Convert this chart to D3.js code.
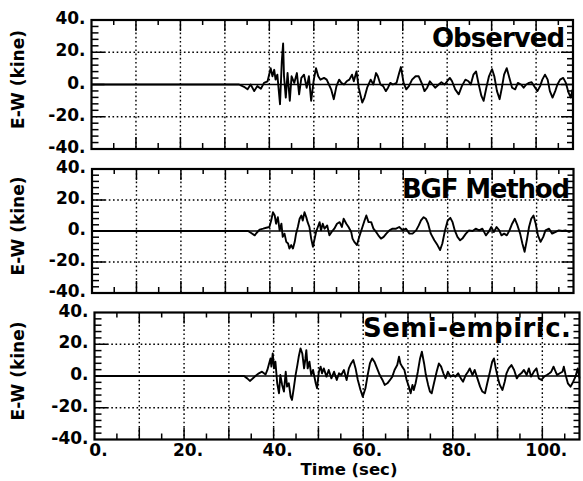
<!DOCTYPE html>
<html><head><meta charset="utf-8">
<script src="https://cdn.jsdelivr.net/npm/d3@7"></script>
<style>body{margin:0;background:#fff}svg{display:block}</style>
</head><body>
<svg id="c" width="583" height="481"></svg>
<script>
// ---- data (time in sec, E-W velocity in kine) ----
const titles = ["Observed", "BGF Method", "Semi-empiric."];
const yTickValues = [40, 20, 0, -20, -40];
const yTickLabels = ["40.", "20.", "0.", "-20.", "-40."];
const xTickValues = [0, 20, 40, 60, 80, 100];
const xTickLabels = ["0.", "20.", "40.", "60.", "80.", "100."];
const yAxisLabel = "E-W (kine)";
const xAxisLabel = "Time (sec)";

const observed = [[0,0],[33.2,0],[33.6,-0.6],[34.3,-1.4],[35.1,-3.0],[35.8,0],[36.6,-4.1],[37.3,-1.0],[38.1,-2.6],[38.8,1.0],[39.6,2.0],[40.3,10.1],[40.7,5.1],[41.1,9.1],[41.4,3.0],[41.8,6.1],[42.4,-12.2],[42.8,14.2],[43.1,25.4],[43.3,5.1],[43.7,-8.1],[44.1,7.1],[44.6,-10.1],[45.0,5.1],[45.6,1.0],[46.2,7.1],[46.7,-6.1],[47.2,4.1],[47.8,6.1],[48.4,-2.0],[48.9,5.1],[49.4,-10.1],[50.0,3.0],[50.5,10.1],[51.0,5.1],[51.5,3.0],[52.3,4.1],[52.9,3.0],[53.4,0],[53.9,-3.0],[54.5,-9.1],[55.1,-1.0],[55.7,3.0],[56.2,1.0],[56.8,0],[57.4,2.0],[58.0,3.0],[58.6,6.1],[59.0,2.0],[59.6,8.1],[60.1,-2.0],[60.9,-11.2],[61.4,-8.1],[62.0,-2.0],[62.8,3.0],[63.4,0],[64.0,7.1],[64.4,5.1],[65.0,0],[65.6,-1.0],[66.2,-4.1],[66.7,-2.0],[67.2,1.0],[67.8,0],[68.6,1.0],[69.2,7.1],[69.6,10.8],[70.2,1.0],[70.8,-3.0],[71.4,-1.0],[72.1,3.0],[72.9,5.1],[73.6,5.1],[74.4,0],[74.9,-4.1],[75.5,-2.0],[76.1,2.0],[76.7,0],[77.3,-2.0],[78.1,0],[78.7,1.4],[79.4,0],[80.0,2.0],[80.6,4.1],[81.1,2.0],[81.8,-3.0],[82.6,-6.1],[83.3,-1.0],[84.1,3.0],[84.8,2.0],[85.3,0],[85.9,6.1],[86.5,8.1],[87.1,0],[87.7,-7.1],[88.2,-10.1],[88.8,-2.0],[89.4,5.1],[90.1,9.5],[90.6,5.1],[91.2,-4.1],[91.8,-9.1],[92.3,-2.0],[92.8,6.1],[93.4,10.1],[94.0,4.1],[94.6,-2.0],[95.3,-3.0],[95.9,1.0],[96.6,0],[97.2,-2.0],[97.8,0],[98.4,1.0],[99.0,1.4],[99.8,-2.0],[100.3,-4.1],[100.9,-1.0],[101.4,3.0],[102.0,6.1],[102.6,3.0],[103.1,-4.1],[103.7,-8.1],[104.3,-4.1],[104.8,0],[105.4,3.0],[106.1,4.1],[106.7,1.0],[107.3,-5.1],[107.8,-8.1],[108.2,-3.0]];

const bgf = [[0,0],[35.1,0],[35.8,-1.3],[36.6,-2.8],[37.0,-1.3],[37.7,0.9],[38.5,1.5],[39.2,2.1],[39.9,2.6],[40.3,6.8],[40.7,12.1],[41.1,10.0],[41.4,4.7],[41.8,8.9],[42.2,0.4],[42.6,4.7],[42.9,-3.8],[43.3,-1.7],[43.7,-7.0],[44.1,-8.1],[44.4,-11.3],[44.8,-9.1],[45.2,-11.3],[45.6,-7.0],[45.9,-1.7],[46.3,2.6],[46.7,7.9],[47.1,10.0],[47.4,6.8],[47.8,12.1],[48.2,8.9],[48.5,5.7],[48.9,2.6],[49.3,-4.9],[49.7,-10.2],[50.0,-6.0],[50.4,-0.6],[50.8,2.6],[51.2,5.7],[51.5,0.4],[51.9,4.7],[52.3,1.5],[52.9,3.6],[53.4,-2.8],[53.9,-0.6],[54.5,1.5],[55.1,4.7],[55.7,5.7],[56.2,2.6],[56.6,7.9],[57.2,4.7],[57.7,2.6],[58.3,-0.6],[58.6,-4.9],[59.0,-7.0],[59.6,-9.1],[60.1,-3.8],[60.7,1.5],[61.3,6.8],[61.7,10.0],[62.2,5.7],[62.8,5.7],[63.3,1.5],[63.9,-0.6],[64.4,-2.8],[65.0,-4.9],[65.6,-3.8],[66.2,-1.7],[66.9,0.4],[67.6,1.5],[68.4,1.5],[69.1,2.6],[69.9,0.4],[70.6,1.5],[71.4,-1.7],[72.1,-1.7],[72.9,0.4],[73.5,3.6],[74.0,6.8],[74.6,8.9],[75.1,7.9],[75.6,4.7],[76.2,-1.7],[77.0,-6.0],[77.7,-9.1],[78.3,-12.3],[78.8,-8.1],[79.4,0.4],[80.0,6.8],[80.6,8.5],[81.1,5.7],[81.6,0.4],[82.2,-3.8],[82.8,-6.0],[83.3,-4.9],[84.1,-1.7],[84.8,0.4],[85.6,0],[86.3,1.5],[87.1,0.4],[87.8,1.5],[88.6,-2.8],[89.2,-0.6],[89.8,2.6],[90.4,-0.6],[91.0,2.6],[91.6,0.4],[92.1,-2.8],[92.7,-1.7],[93.3,-2.8],[93.9,0.4],[94.5,4.7],[95.1,7.9],[95.7,3.6],[96.3,-1.7],[96.8,-8.1],[97.3,-13.4],[97.8,-6.0],[98.3,2.6],[98.8,7.9],[99.3,10.0],[99.8,4.7],[100.3,-2.8],[100.9,-7.0],[101.5,-3.8],[102.0,0.4],[102.8,1.5],[103.5,-1.7],[104.3,-0.6],[105.0,0.4],[105.8,0],[106.5,0.4],[107.3,-0.6],[108.2,0.4]];

const semiEmpiric = [[0,0],[33.4,0],[34.1,-1.5],[34.7,-3.1],[35.2,-1.9],[36.0,0.2],[36.7,1.7],[37.4,2.7],[38.2,1.0],[38.6,3.8],[38.9,6.9],[39.3,11.1],[39.5,5.9],[39.8,14.2],[40.1,4.8],[40.4,9.0],[40.8,-4.6],[41.2,-10.9],[41.5,0.6],[41.9,-5.6],[42.3,-9.8],[42.7,2.7],[43.0,-6.7],[43.4,-4.6],[43.8,-13.0],[44.1,-15.1],[44.5,-7.7],[44.9,0.6],[45.3,6.9],[45.6,12.1],[46.0,17.4],[46.4,14.2],[46.8,4.8],[47.1,11.1],[47.3,16.3],[47.6,4.8],[48.0,9.0],[48.4,0.6],[48.8,3.8],[49.4,-4.6],[49.7,-7.7],[50.1,2.7],[50.5,5.9],[50.8,1.7],[51.2,4.8],[51.8,-0.4],[52.3,3.8],[52.9,-1.5],[53.5,2.7],[54.1,-2.5],[54.6,1.7],[55.1,0.6],[55.7,3.8],[56.3,-2.5],[56.8,4.8],[57.3,7.9],[57.8,10.0],[58.3,4.8],[58.8,-2.5],[59.4,-8.8],[59.9,-13.0],[60.5,-7.7],[61.0,0.6],[61.5,7.9],[62.0,11.1],[62.5,9.0],[63.1,4.8],[63.7,0.6],[64.3,-2.5],[64.8,-5.6],[65.4,-4.6],[66.0,-2.5],[66.5,-0.4],[67.0,3.8],[67.6,6.9],[68.0,12.1],[68.3,7.9],[68.7,5.9],[69.2,3.8],[69.7,-2.5],[70.2,-6.7],[70.6,-10.9],[71.0,-5.6],[71.3,-8.8],[71.7,-4.6],[72.2,2.7],[72.7,11.1],[73.1,15.3],[73.6,7.9],[74.0,0.6],[74.5,-5.6],[74.9,-9.8],[75.3,-10.9],[75.8,-4.6],[76.4,2.7],[76.9,7.9],[77.4,5.9],[77.9,1.7],[78.4,-1.5],[78.9,2.7],[79.5,-0.4],[80.1,0.6],[80.6,-0.4],[81.2,1.7],[81.8,-1.5],[82.3,-3.6],[82.9,0.6],[83.4,2.7],[83.8,4.8],[84.4,0.6],[84.9,3.8],[85.5,-1.5],[86.1,-6.7],[86.6,-9.8],[87.2,-10.9],[87.7,-4.6],[88.3,2.7],[88.8,9.0],[89.2,11.1],[89.6,4.8],[90.1,-1.5],[90.5,-5.6],[91.1,-8.8],[91.6,-3.6],[92.0,1.7],[92.5,4.8],[93.1,6.9],[93.7,3.8],[94.3,-1.5],[94.8,0.6],[95.3,1.7],[95.9,3.8],[96.5,0.6],[97.0,4.8],[97.5,-0.4],[98.1,2.7],[98.7,4.8],[99.2,-1.5],[99.8,-2.5],[100.4,-0.4],[101.0,0.6],[101.6,1.7],[102.0,2.7],[102.5,5.9],[102.8,3.8],[103.3,0.6],[103.9,1.7],[104.5,2.7],[104.8,5.9],[105.2,0.6],[105.7,-4.6],[106.3,-6.7],[106.9,-3.6],[107.4,-0.4],[107.9,4.8],[108.3,-1.5]];

// ---- layout ----
const series = [observed, bgf, semiEmpiric];
const xMax = 108.3;
const FONT = "'DejaVu Sans', sans-serif";
const panels = [
  {x0: 91.5, x1: 573, y0: 20,    y1: 149,   tx: 565, ty: 47,  tw: 133},
  {x0: 92,   x1: 573.5, y0: 169, y1: 293,   tx: 570, ty: 198, tw: 168},
  {x0: 94.5, x1: 579.5, y0: 312.5, y1: 439.5, tx: 571, ty: 337, tw: 208}
];

const svg = d3.select("#c");

panels.forEach((p, i) => {
  const x = d3.scaleLinear().domain([0, xMax]).range([p.x0, p.x1]);
  const y = d3.scaleLinear().domain([-40, 40]).range([p.y1, p.y0]);
  const g = svg.append("g");

  // dotted grid
  const gx = d3.range(10, 101, 10);
  g.selectAll(".vg").data(gx).join("line")
    .attr("x1", d => x(d)).attr("x2", d => x(d))
    .attr("y1", p.y0).attr("y2", p.y1)
    .attr("stroke", "#000").attr("stroke-width", 1.4).attr("stroke-dasharray", "1.6,2.6");
  g.selectAll(".hg").data([-20, 20]).join("line")
    .attr("x1", p.x0).attr("x2", p.x1)
    .attr("y1", d => y(d)).attr("y2", d => y(d))
    .attr("stroke", "#000").attr("stroke-width", 1.4).attr("stroke-dasharray", "1.6,2.6");

  // zero line
  g.append("line").attr("x1", p.x0).attr("x2", p.x1)
    .attr("y1", y(0)).attr("y2", y(0)).attr("stroke", "#000").attr("stroke-width", 1.7);

  // inner ticks: x
  const xt = d3.range(5, xMax, 5);
  const xLen = d => (d % 10 === 0 ? 12 : 6);
  g.selectAll(".xtb").data(xt).join("line")
    .attr("x1", d => x(d)).attr("x2", d => x(d))
    .attr("y1", p.y1).attr("y2", d => p.y1 - xLen(d))
    .attr("stroke", "#000").attr("stroke-width", 1.5);
  g.selectAll(".xtt").data(xt).join("line")
    .attr("x1", d => x(d)).attr("x2", d => x(d))
    .attr("y1", p.y0).attr("y2", d => p.y0 + xLen(d) - 1)
    .attr("stroke", "#000").attr("stroke-width", 1.5);
  // inner ticks: y
  const yt = d3.range(-36, 40, 4);
  const yLen = d => (d % 20 === 0 ? 13 : 7);
  g.selectAll(".ytl").data(yt).join("line")
    .attr("x1", p.x0).attr("x2", d => p.x0 + yLen(d))
    .attr("y1", d => y(d)).attr("y2", d => y(d))
    .attr("stroke", "#000").attr("stroke-width", 1.5);
  g.selectAll(".ytr").data(yt).join("line")
    .attr("x1", p.x1).attr("x2", d => p.x1 - yLen(d) + 1)
    .attr("y1", d => y(d)).attr("y2", d => y(d))
    .attr("stroke", "#000").attr("stroke-width", 1.5);

  // trace
  const line = d3.line().x(d => x(d[0])).y(d => y(d[1]));
  g.append("path").datum(series[i]).attr("d", line)
    .attr("fill", "none").attr("stroke", "#000").attr("stroke-width", 1.9)
    .attr("stroke-linejoin", "round");

  // frame
  g.append("rect").attr("x", p.x0).attr("y", p.y0)
    .attr("width", p.x1 - p.x0).attr("height", p.y1 - p.y0)
    .attr("fill", "none").attr("stroke", "#000").attr("stroke-width", 2.2);

  // y tick labels
  g.selectAll(".yl").data(yTickValues).join("text")
    .attr("x", p.x0 - 6).attr("y", d => y(d) - 2)
    .attr("text-anchor", "end").attr("dominant-baseline", "central")
    .attr("font-family", FONT).attr("font-weight", "bold").attr("font-size", 17)
    .text((d, j) => yTickLabels[j]);

  // y axis label
  const cy = (p.y0 + p.y1) / 2 - 5;
  g.append("text").attr("transform", `translate(24,${cy}) rotate(-90)`)
    .attr("text-anchor", "middle")
    .attr("font-family", FONT).attr("font-weight", "bold").attr("font-size", 17)
    .text(yAxisLabel);

  // title
  g.append("text").attr("x", p.tx).attr("y", p.ty)
    .attr("text-anchor", "end")
    .attr("textLength", p.tw).attr("lengthAdjust", "spacing")
    .attr("font-family", FONT).attr("font-weight", "bold").attr("font-size", 26)
    .text(titles[i]);

  if (i === panels.length - 1) {
    g.selectAll(".xl").data(xTickValues).join("text")
      .attr("x", d => x(d) + 4).attr("y", p.y1 + 16.5)
      .attr("text-anchor", "middle")
      .attr("font-family", FONT).attr("font-weight", "bold").attr("font-size", 17)
      .text((d, j) => xTickLabels[j]);
    g.append("text").attr("x", 349).attr("y", 475)
      .attr("text-anchor", "middle")
      .attr("font-family", FONT).attr("font-weight", "bold").attr("font-size", 16.5)
      .text(xAxisLabel);
  }
});
</script>
</body></html>
